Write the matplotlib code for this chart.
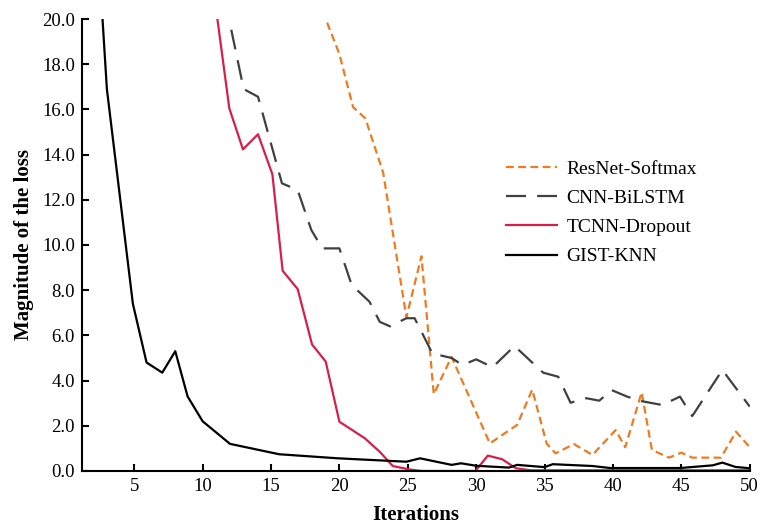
import matplotlib
matplotlib.use("Agg")
import matplotlib.pyplot as plt
from matplotlib.ticker import FormatStrFormatter

plt.rcParams["font.family"] = ["Liberation Serif", "DejaVu Serif"]

# vertices (iteration, loss)
resnet_x = [18.0, 19.0, 20.0, 21.0, 21.9, 23.2, 24.9, 26.0, 26.9, 28.2, 31.0, 33.0,
            34.1, 35.15, 35.8, 37.15, 38.5, 40.2, 40.9, 42.1, 42.85, 44.1, 45.0,
            45.8, 47.9, 49.0, 50.0]
resnet_y = [22.5, 20.0, 18.45, 16.1, 15.6, 13.2, 6.8, 9.5, 3.4, 5.05, 1.22, 2.04,
            3.6, 1.22, 0.78, 1.19, 0.71, 1.81, 1.05, 3.48, 0.93, 0.59, 0.81,
            0.59, 0.59, 1.74, 1.05]

cnn_x = [11.0, 12.0, 13.0, 14.05, 15.8, 16.95, 17.95, 18.75, 20.0, 20.9, 22.2, 22.95,
         23.7, 24.9, 25.5, 26.8, 28.2, 29.0, 30.0, 31.2, 32.8, 34.9, 36.0, 36.9,
         38.05, 39.0, 39.9, 41.0, 42.0, 43.6, 44.9, 45.8, 48.0, 50.0]
cnn_y = [24.0, 19.8, 16.9, 16.56, 12.73, 12.43, 10.66, 9.85, 9.85, 8.23, 7.49, 6.6,
         6.4, 6.76, 6.76, 5.2, 5.0, 4.69, 4.94, 4.59, 5.53, 4.35, 4.17, 3.02,
         3.22, 3.11, 3.58, 3.3, 3.1, 2.92, 3.29, 2.43, 4.47, 2.85]

tcnn_x = [10.0, 11.95, 12.95, 14.05, 15.1, 15.85, 16.95, 18.0, 19.0, 20.0, 21.85,
          22.95, 23.9, 25.1, 26.0, 29.95, 30.85, 31.9, 32.9, 34.0, 50.0]
tcnn_y = [24.9, 16.05, 14.23, 14.9, 13.13, 8.86, 8.05, 5.6, 4.84, 2.18, 1.45,
          0.85, 0.22, 0.07, 0.0, 0.0, 0.68, 0.52, 0.12, 0.03, 0.03]

gist_x = [2.0, 3.0, 4.9, 5.9, 7.05, 8.0, 8.9, 10.0, 12.0, 15.6, 19.9, 24.9, 25.9,
          28.2, 28.9, 30.0, 32.4, 33.0, 35.0, 35.6, 38.5, 39.8, 44.9, 47.3, 48.0,
          48.95, 50.0]
gist_y = [26.6, 16.9, 7.4, 4.8, 4.35, 5.3, 3.3, 2.2, 1.2, 0.74, 0.56, 0.41, 0.56,
          0.27, 0.34, 0.23, 0.15, 0.27, 0.17, 0.3, 0.22, 0.13, 0.13, 0.25, 0.37,
          0.18, 0.12]

fig = plt.figure(figsize=(7.65, 5.28), dpi=100)
ax = fig.add_axes([0.107, 0.108, 0.873, 0.856])

ax.plot(resnet_x, resnet_y, color="#F07A1E", lw=1.6, dashes=(3.5, 2),
        label="ResNet-Softmax")
ax.plot(cnn_x, cnn_y, color="#404040", lw=1.6, dashes=(9, 5), label="CNN-BiLSTM")
ax.plot(tcnn_x, tcnn_y, color="#D81E4A", lw=1.6, label="TCNN-Dropout")
ax.plot(gist_x, gist_y, color="black", lw=1.6, label="GIST-KNN")

ax.set_xlim(1.17, 50)
ax.set_ylim(0, 20)
ax.set_xticks(range(5, 51, 5))
ax.set_yticks([0, 2, 4, 6, 8, 10, 12, 14, 16, 18, 20])
ax.yaxis.set_major_formatter(FormatStrFormatter("%.1f"))
ax.tick_params(direction="in", length=5, width=1.5, labelsize=13.5, pad=5)
for s in ["top", "right"]:
    ax.spines[s].set_visible(False)
for s in ["left", "bottom"]:
    ax.spines[s].set_linewidth(1.5)

ax.set_xlabel("Iterations", fontsize=15, fontweight="bold", labelpad=7)
ax.set_ylabel("Magnitude of the loss", fontsize=15, fontweight="bold", labelpad=6)

ax.legend(loc="upper left", bbox_to_anchor=(0.609, 0.727), frameon=False, fontsize=14,
          handlelength=2.6, handletextpad=0.5, labelspacing=0.6)

fig.savefig("out.png", dpi=100, facecolor="white")
